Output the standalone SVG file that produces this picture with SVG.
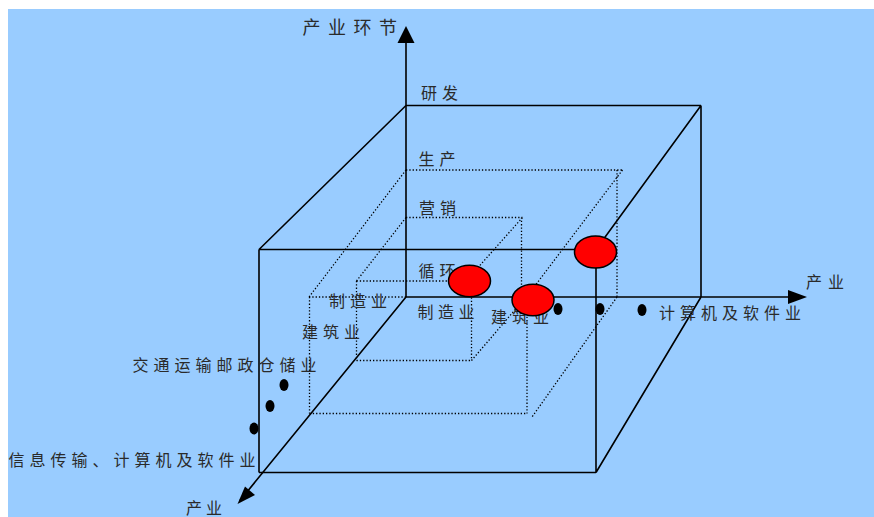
<svg xmlns="http://www.w3.org/2000/svg" width="874" height="517" viewBox="0 0 874 517">
<style>
.solid{stroke:#000;stroke-width:1.6;fill:none}
.dot{stroke:#000;stroke-width:1.3;fill:none;stroke-dasharray:1.3 2}
.t{font-family:"Noto Sans CJK SC","Noto Sans",sans-serif;font-size:16px;fill:#2a2a2a;letter-spacing:5px}
.red{fill:#FF0000;stroke:#000;stroke-width:1.5}
.pt{fill:#000}
.head{fill:#000}
</style>
<rect x="0" y="0" width="874" height="517" fill="#FFFFFF"/>
<rect x="8" y="9" width="866" height="508" fill="#99CCFF"/>

<g id="dotted-box-production">
<path class="dot" d="M406,170H622.5M617,170V297M622.5,170L526.5,297M406,170L309,297M309,297H406M309.5,297V413.5M309.5,413.5H527M527,297V413.5M617,297L532,417"/>
</g>
<g id="dotted-box-marketing">
<path class="dot" d="M406,217.5H522.5M521.5,217.5V297M522.5,217.5L466,281M406,217.5L356.5,281M356.5,281H466M356.5,281V360.5M356.5,360.5H471.5M471.5,281V360.5M471.5,360.5L526,297"/>
</g>

<g id="cube">
<path class="solid" d="M406,105.5H701M701,105.5V297M406,105.5L259,249.5M701,105.5L596,249.5M259,249.5H596M259,249.5V472.5M259,472.5H596M596,249.5V472.5M596,472.5L701,297"/>
</g>

<g id="connectors">
<path class="solid" d="M406,297V42M406,297H789M406,297L240,500.5"/>
<polygon class="head" points="406,26 397.5,43 414.5,43"/>
<polygon class="head" points="807,297 788,290 788,304"/>
<polygon class="head" points="237.5,504 245,486.5 255,495"/>
</g>

<g id="labels">
<text class="t" x="302.5" y="33.5" style="font-size:18px;letter-spacing:7.5px">产业环节</text>
<text class="t" x="421" y="98.5">研发</text>
<text class="t" x="418.5" y="165">生产</text>
<text class="t" x="419" y="213.5">营销</text>
<text class="t" x="418.5" y="277">循环</text>
<text class="t" x="417.5" y="317.5" style="letter-spacing:4.5px">制造业</text>
<text class="t" x="491" y="322.5">建筑业</text>
<text class="t" x="659" y="319">计算机及软件业</text>
<text class="t" x="806" y="288" style="letter-spacing:6px">产业</text>
<text class="t" x="329" y="307">制造业</text>
<text class="t" x="302" y="338">建筑业</text>
<text class="t" x="132.5" y="371">交通运输邮政仓储业</text>
<text class="t" x="8.5" y="465.5">信息传输、计算机及软件业</text>
<text class="t" x="186" y="513.5" style="letter-spacing:4px">产业</text>
</g>

<g id="points">
<ellipse class="pt" cx="558" cy="309" rx="4.5" ry="6"/>
<ellipse class="pt" cx="600" cy="309" rx="4.5" ry="6"/>
<ellipse class="pt" cx="642" cy="310" rx="4.5" ry="6"/>
<ellipse class="pt" cx="284" cy="385" rx="4.5" ry="6"/>
<ellipse class="pt" cx="270" cy="406" rx="4.5" ry="6"/>
<ellipse class="pt" cx="254" cy="428.5" rx="4.5" ry="6"/>
</g>

<g id="node-manufacturing-circular">
<ellipse class="red" cx="469.5" cy="281" rx="21" ry="15.8"/>
</g>
<g id="node-construction">
<ellipse class="red" cx="533" cy="300" rx="21" ry="15.8"/>
</g>
<g id="node-top">
<ellipse class="red" cx="595.5" cy="252" rx="21" ry="16"/>
</g>
</svg>
